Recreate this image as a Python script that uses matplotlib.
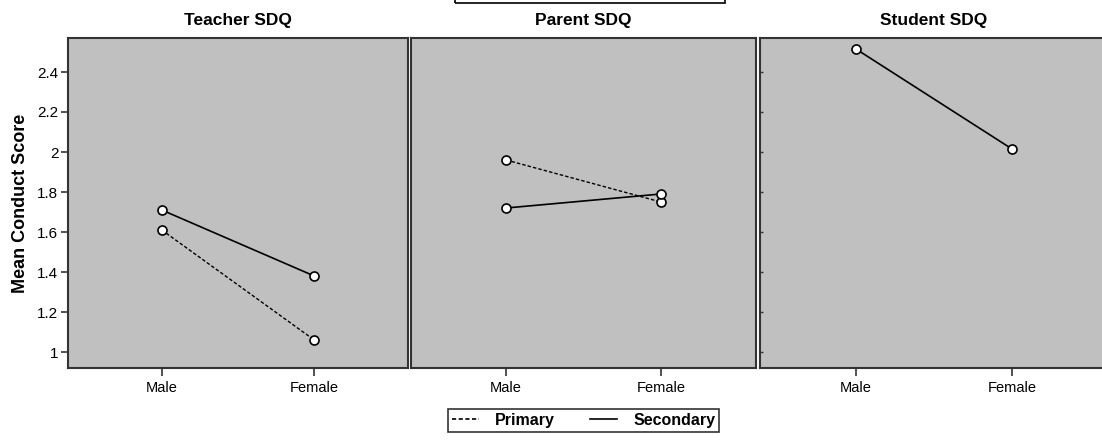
import matplotlib
matplotlib.use("Agg")
import matplotlib.pyplot as plt
from matplotlib.lines import Line2D
from matplotlib.patches import Rectangle

plt.rcParams['font.family'] = ['Liberation Sans', 'DejaVu Sans']

genders = ["Male", "Female"]
panels = ["Teacher SDQ", "Parent SDQ", "Student SDQ"]
primary = {"Teacher SDQ": [1.61, 1.06], "Parent SDQ": [1.96, 1.75], "Student SDQ": None}
secondary = {"Teacher SDQ": [1.71, 1.38], "Parent SDQ": [1.72, 1.79], "Student SDQ": [2.515, 2.015]}
yticks = [1, 1.2, 1.4, 1.6, 1.8, 2, 2.2, 2.4]
yticklabels = ["1", "1.2", "1.4", "1.6", "1.8", "2", "2.2", "2.4"]

W, H = 1102, 445
fig = plt.figure(figsize=(W / 100, H / 100), dpi=100)

# axes pixel bounds (left, right)
bounds = [(68, 408), (411, 756), (760, 1108)]
top_px, bot_px = 38, 368

axes = []
for i, (name, (l, r)) in enumerate(zip(panels, bounds)):
    ax = fig.add_axes([l / W, 1 - bot_px / H, (r - l) / W, (bot_px - top_px) / H])
    ax.set_facecolor("#C0C0C0")
    x = list(range(len(genders)))
    if primary[name] is not None:
        ax.plot(x, primary[name], color="black", lw=1, ls=(0, (2.5, 1.5)),
                marker="o", ms=6.5, mfc="white", mec="black", mew=1.2)
    if secondary[name] is not None:
        ax.plot(x, secondary[name], color="black", lw=1.2, ls="-",
                marker="o", ms=6.5, mfc="white", mec="black", mew=1.2)
    ax.set_xlim(-0.615, 1.615)
    ax.set_ylim(0.92, 2.57)
    ax.set_xticks(x)
    ax.set_xticklabels(genders, fontsize=10.5)
    ax.set_yticks(yticks)
    ax.set_title(name, fontsize=12.5, fontweight="bold", pad=9)
    for s in ax.spines.values():
        s.set_color("#333333")
        s.set_linewidth(1.5)
    ax.tick_params(axis="x", length=6, width=1.2, color="#333333", pad=3)
    if i == 0:
        ax.set_yticklabels(yticklabels, fontsize=11)
        ax.tick_params(axis="y", length=5, width=1.2, color="#333333", pad=2)
        ax.set_ylabel("Mean Conduct Score", fontsize=13, fontweight="bold", labelpad=6)
    elif i == 2:
        ax.set_yticklabels([])
        ax.tick_params(axis="y", direction="in", length=2, width=1, color="#333333")
    else:
        ax.set_yticklabels([])
        ax.tick_params(axis="y", length=0)
    axes.append(ax)

# legend at bottom
handles = [Line2D([], [], color="black", lw=1.2, ls=(0, (2.5, 1.5))),
           Line2D([], [], color="black", lw=1.2, ls="-")]
leg = fig.legend(handles, ["Primary", "Secondary"], ncol=2,
                 loc="center", bbox_to_anchor=(583.5 / W, 1 - 420.5 / H),
                 frameon=True, fancybox=False, handlelength=1.7, columnspacing=2.2,
                 handletextpad=1.0, borderpad=0.25,
                 prop={"weight": "bold", "size": 11.5})
leg.get_frame().set_edgecolor("black")
leg.get_frame().set_linewidth(1.2)

# cut-off box at top edge
fig.patches.append(Rectangle((455 / W, 1 - 3 / H), (725 - 455) / W, 10 / H,
                             transform=fig.transFigure, fill=False,
                             edgecolor="black", lw=1.2))

fig.savefig("out.png", dpi=100, facecolor="white")
